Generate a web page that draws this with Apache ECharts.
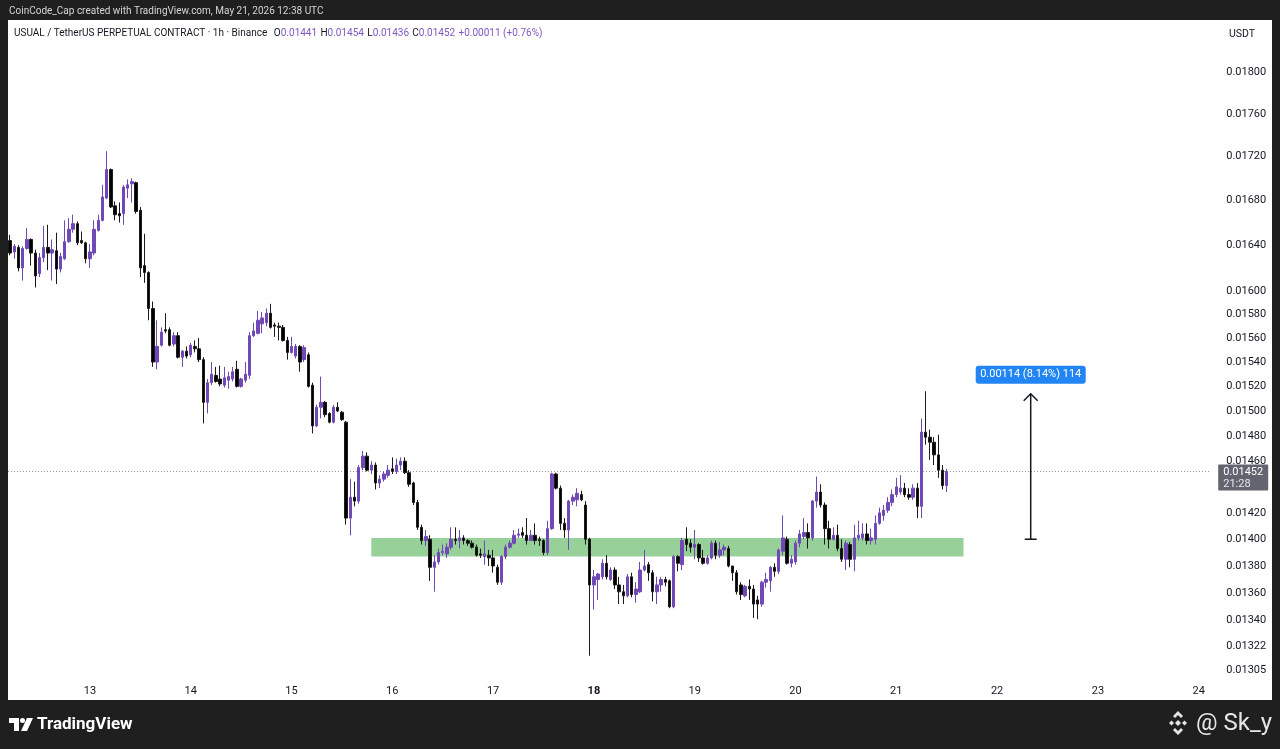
<!DOCTYPE html>
<html><head><meta charset="utf-8">
<script src="https://cdn.jsdelivr.net/npm/echarts@6/dist/echarts.min.js"></script>
<style>html,body{margin:0;padding:0;background:#1f1f1f;}#c{width:1280px;height:749px;}</style>
</head><body><div id="c"></div>
<script>
// ---- data (USUAL/USDT 1h, first candle 12 May 05:00 UTC) ----
const firstCandle = '2026-05-12T05:00:00Z';
const opens = [
0.01644,0.01634,0.01638,0.01620,0.01637,0.01645,0.01633,0.01615,0.01629,0.01638,
0.01633,0.01635,0.01619,0.01628,0.01643,0.01654,0.01659,0.01644,0.01642,0.01628,
0.01633,0.01653,0.01662,0.01682,0.01708,0.01675,0.01668,0.01668,0.01691,0.01695,
0.01696,0.01671,0.01622,0.01616,0.01585,0.01540,0.01554,0.01567,0.01567,0.01555,
0.01562,0.01544,0.01549,0.01546,0.01553,0.01551,0.01542,0.01507,0.01523,0.01529,
0.01526,0.01521,0.01525,0.01526,0.01534,0.01520,0.01525,0.01529,0.01562,0.01564,
0.01572,0.01573,0.01581,0.01571,0.01570,0.01569,0.01558,0.01548,0.01545,0.01553,
0.01542,0.01546,0.01521,0.01488,0.01503,0.01507,0.01498,0.01491,0.01503,0.01499,
0.01491,0.01416,0.01432,0.01429,0.01455,0.01464,0.01453,0.01457,0.01443,0.01446,
0.01449,0.01454,0.01452,0.01457,0.01460,0.01451,0.01443,0.01428,0.01409,0.01399,
0.01400,0.01379,0.01383,0.01390,0.01389,0.01394,0.01400,0.01399,0.01401,0.01399,
0.01397,0.01394,0.01389,0.01387,0.01388,0.01386,0.01379,0.01368,0.01387,0.01394,
0.01397,0.01403,0.01405,0.01403,0.01399,0.01403,0.01400,0.01399,0.01390,0.01408,
0.01450,0.01439,0.01412,0.01407,0.01429,0.01430,0.01434,0.01426,0.01400,0.01366,
0.01370,0.01372,0.01382,0.01370,0.01377,0.01366,0.01361,0.01358,0.01372,0.01359,
0.01361,0.01377,0.01381,0.01375,0.01361,0.01366,0.01370,0.01369,0.01350,0.01387,
0.01381,0.01400,0.01397,0.01394,0.01396,0.01386,0.01382,0.01386,0.01397,0.01388,
0.01392,0.01393,0.01380,0.01375,0.01366,0.01358,0.01365,0.01363,0.01355,0.01352,
0.01368,0.01369,0.01379,0.01376,0.01391,0.01400,0.01382,0.01383,0.01397,0.01402,
0.01405,0.01401,0.01429,0.01436,0.01426,0.01408,0.01400,0.01403,0.01393,0.01385,
0.01396,0.01385,0.01401,0.01401,0.01404,0.01399,0.01400,0.01412,0.01418,0.01422,
0.01428,0.01434,0.01436,0.01439,0.01434,0.01432,0.01439,0.01425,0.01483,0.01479,
0.01475,0.01465,0.01453,0.01441];
const closes = [
0.01633,0.01639,0.01620,0.01637,0.01645,0.01633,0.01613,0.01629,0.01638,0.01633,
0.01636,0.01619,0.01630,0.01643,0.01654,0.01659,0.01642,0.01642,0.01628,0.01634,
0.01654,0.01662,0.01683,0.01708,0.01674,0.01667,0.01666,0.01692,0.01694,0.01697,
0.01670,0.01620,0.01616,0.01585,0.01540,0.01553,0.01565,0.01566,0.01554,0.01562,
0.01544,0.01549,0.01545,0.01554,0.01551,0.01542,0.01507,0.01523,0.01530,0.01524,
0.01522,0.01527,0.01528,0.01532,0.01520,0.01526,0.01530,0.01562,0.01566,0.01575,
0.01577,0.01581,0.01569,0.01570,0.01569,0.01558,0.01548,0.01553,0.01553,0.01540,
0.01552,0.01520,0.01488,0.01503,0.01507,0.01497,0.01491,0.01503,0.01500,0.01493,
0.01416,0.01432,0.01429,0.01455,0.01464,0.01453,0.01457,0.01443,0.01446,0.01450,
0.01453,0.01452,0.01457,0.01460,0.01451,0.01442,0.01428,0.01409,0.01399,0.01402,
0.01379,0.01383,0.01390,0.01391,0.01394,0.01400,0.01399,0.01401,0.01399,0.01397,
0.01394,0.01388,0.01388,0.01389,0.01386,0.01380,0.01368,0.01387,0.01394,0.01397,
0.01403,0.01404,0.01403,0.01399,0.01403,0.01399,0.01399,0.01390,0.01408,0.01450,
0.01439,0.01412,0.01407,0.01429,0.01432,0.01435,0.01430,0.01400,0.01366,0.01372,
0.01374,0.01382,0.01372,0.01377,0.01366,0.01361,0.01358,0.01372,0.01359,0.01363,
0.01377,0.01380,0.01375,0.01361,0.01366,0.01370,0.01368,0.01350,0.01387,0.01382,
0.01399,0.01396,0.01394,0.01396,0.01386,0.01382,0.01386,0.01397,0.01388,0.01392,
0.01394,0.01380,0.01375,0.01361,0.01359,0.01365,0.01363,0.01352,0.01352,0.01368,
0.01370,0.01379,0.01376,0.01392,0.01401,0.01382,0.01385,0.01397,0.01404,0.01405,
0.01401,0.01429,0.01436,0.01426,0.01408,0.01400,0.01403,0.01393,0.01385,0.01397,
0.01385,0.01401,0.01403,0.01404,0.01399,0.01401,0.01412,0.01420,0.01422,0.01428,
0.01434,0.01440,0.01439,0.01434,0.01432,0.01439,0.01425,0.01483,0.01479,0.01475,
0.01465,0.01453,0.01441,0.01452];
const lows = [
0.01631,0.01628,0.01617,0.01609,0.01636,0.01622,0.01603,0.01612,0.01625,0.01618,
0.01609,0.01606,0.01616,0.01627,0.01642,0.01651,0.01640,0.01641,0.01624,0.01620,
0.01631,0.01652,0.01661,0.01681,0.01673,0.01662,0.01660,0.01658,0.01682,0.01678,
0.01668,0.01612,0.01607,0.01575,0.01536,0.01534,0.01553,0.01564,0.01553,0.01553,
0.01543,0.01536,0.01543,0.01544,0.01548,0.01540,0.01490,0.01498,0.01521,0.01523,
0.01520,0.01519,0.01518,0.01524,0.01519,0.01519,0.01523,0.01526,0.01561,0.01563,
0.01564,0.01570,0.01568,0.01561,0.01558,0.01557,0.01542,0.01547,0.01543,0.01532,
0.01540,0.01519,0.01482,0.01487,0.01494,0.01495,0.01490,0.01490,0.01499,0.01492,
0.01411,0.01403,0.01425,0.01427,0.01453,0.01452,0.01450,0.01438,0.01439,0.01444,
0.01447,0.01450,0.01450,0.01453,0.01450,0.01440,0.01426,0.01407,0.01396,0.01395,
0.01369,0.01361,0.01381,0.01388,0.01386,0.01392,0.01396,0.01393,0.01396,0.01395,
0.01393,0.01387,0.01386,0.01381,0.01380,0.01375,0.01366,0.01366,0.01385,0.01393,
0.01396,0.01401,0.01401,0.01396,0.01399,0.01396,0.01395,0.01388,0.01388,0.01407,
0.01438,0.01407,0.01401,0.01392,0.01426,0.01425,0.01429,0.01396,0.01315,0.01348,
0.01355,0.01370,0.01370,0.01369,0.01363,0.01352,0.01352,0.01357,0.01357,0.01353,
0.01360,0.01376,0.01369,0.01354,0.01352,0.01361,0.01365,0.01349,0.01349,0.01376,
0.01377,0.01391,0.01390,0.01385,0.01383,0.01381,0.01381,0.01385,0.01385,0.01386,
0.01388,0.01379,0.01369,0.01359,0.01355,0.01357,0.01355,0.01342,0.01341,0.01350,
0.01364,0.01361,0.01372,0.01374,0.01388,0.01381,0.01379,0.01381,0.01394,0.01400,
0.01393,0.01399,0.01424,0.01424,0.01396,0.01393,0.01399,0.01391,0.01383,0.01377,
0.01379,0.01376,0.01399,0.01399,0.01396,0.01396,0.01396,0.01411,0.01414,0.01420,
0.01425,0.01432,0.01434,0.01432,0.01430,0.01430,0.01416,0.01416,0.01473,0.01461,
0.01457,0.01447,0.01438,0.01436];
const highs = [
0.01649,0.01641,0.01640,0.01639,0.01655,0.01646,0.01636,0.01633,0.01657,0.01658,
0.01645,0.01651,0.01633,0.01662,0.01664,0.01667,0.01661,0.01652,0.01643,0.01641,
0.01662,0.01667,0.01694,0.01725,0.01709,0.01679,0.01678,0.01694,0.01699,0.01700,
0.01697,0.01674,0.01650,0.01617,0.01591,0.01575,0.01569,0.01581,0.01569,0.01565,
0.01565,0.01550,0.01553,0.01556,0.01558,0.01560,0.01544,0.01526,0.01540,0.01536,
0.01537,0.01536,0.01532,0.01536,0.01541,0.01527,0.01540,0.01565,0.01573,0.01583,
0.01582,0.01585,0.01589,0.01573,0.01573,0.01571,0.01561,0.01561,0.01555,0.01554,
0.01554,0.01548,0.01523,0.01505,0.01528,0.01508,0.01499,0.01505,0.01507,0.01500,
0.01492,0.01446,0.01444,0.01457,0.01468,0.01467,0.01460,0.01459,0.01449,0.01452,
0.01457,0.01463,0.01462,0.01463,0.01463,0.01453,0.01444,0.01430,0.01411,0.01407,
0.01403,0.01388,0.01393,0.01396,0.01397,0.01409,0.01409,0.01407,0.01403,0.01400,
0.01399,0.01396,0.01393,0.01399,0.01392,0.01392,0.01381,0.01388,0.01396,0.01399,
0.01407,0.01408,0.01409,0.01416,0.01407,0.01412,0.01402,0.01400,0.01414,0.01451,
0.01451,0.01441,0.01416,0.01430,0.01434,0.01439,0.01437,0.01429,0.01401,0.01377,
0.01375,0.01385,0.01388,0.01379,0.01379,0.01372,0.01366,0.01374,0.01375,0.01368,
0.01383,0.01392,0.01383,0.01377,0.01372,0.01372,0.01372,0.01370,0.01388,0.01388,
0.01401,0.01409,0.01400,0.01407,0.01397,0.01392,0.01388,0.01399,0.01399,0.01398,
0.01396,0.01395,0.01380,0.01377,0.01368,0.01366,0.01370,0.01366,0.01358,0.01369,
0.01375,0.01380,0.01382,0.01393,0.01418,0.01402,0.01388,0.01399,0.01407,0.01416,
0.01412,0.01430,0.01448,0.01442,0.01428,0.01414,0.01409,0.01411,0.01400,0.01399,
0.01398,0.01411,0.01414,0.01412,0.01412,0.01408,0.01418,0.01424,0.01426,0.01432,
0.01438,0.01447,0.01449,0.01443,0.01439,0.01442,0.01443,0.01494,0.01516,0.01485,
0.01479,0.01481,0.01457,0.01454];

const priceTicks = [0.01800,0.01760,0.01720,0.01680,0.01640,0.01600,0.01580,0.01560,0.01540,0.01520,
  0.01500,0.01480,0.01460,0.01440,0.01420,0.01400,0.01380,0.01360,0.01340,0.01322,0.01305];
const boldDays = ['18'];
const lastPrice = 0.01452;
const lastPriceLines = ['0.01452', '21:28'];
const zoneLow = 0.01387, zoneHigh = 0.01401;
const zoneFrom = '2026-05-15T19', zoneTo = '2026-05-21T16';
const measureAt = '2026-05-22T08';
const measureFrom = 0.01400, measureTo = 0.01514;
const measureText = '0.00114 (8.14%) 114';
const ohlcHeader = {o:'0.01441', h:'0.01454', l:'0.01436', c:'0.01452', chg:'+0.00011 (+0.76%)'};

// ---- axis setup ----
const slots = 286;               // hourly slots on the time scale (incl. empty future)
const t0 = Date.parse(firstCandle);
const cats = [];
for (let k = 0; k < slots; k++) cats.push(new Date(t0 + k * 3600e3).toISOString().slice(0, 13));
const lastCat = cats[opens.length - 1];
const candles = opens.map((o, k) => [Math.log(o), Math.log(closes[k]), Math.log(lows[k]), Math.log(highs[k])]);
const axisTop = 0.018511, axisBottom = 0.012979;

const FONT = 'Roboto, "Noto Sans", sans-serif';
const UP = '#7049b6', DOWN = '#000000';

const chart = echarts.init(document.getElementById('c'), null, {renderer: 'canvas'});
chart.setOption({
  animation: false,
  backgroundColor: '#ffffff',
  grid: {left: 8, top: 20, width: 1201.2, height: 660},
  xAxis: {
    type: 'category', data: cats, boundaryGap: true,
    axisLine: {show: false}, axisTick: {show: false}, splitLine: {show: false},
    axisLabel: {
      interval: (i, v) => v.endsWith('T00'),
      formatter: v => { const d = String(+v.slice(8, 10)); return boldDays.includes(d) ? '{b|' + d + '}' : d; },
      color: '#131722', fontSize: 11, fontFamily: FONT, margin: 6,
      rich: {b: {fontWeight: 'bold', color: '#131722', fontSize: 11, fontFamily: FONT}}
    }
  },
  yAxis: {
    type: 'value', position: 'right',
    min: Math.log(axisBottom), max: Math.log(axisTop),
    axisLine: {show: false}, axisTick: {show: false}, splitLine: {show: false},
    axisLabel: {
      customValues: priceTicks.map(Math.log),
      formatter: v => Math.exp(v).toFixed(5),
      color: '#131722', fontSize: 11, fontFamily: FONT, margin: 17, align: 'left'
    }
  },
  series: [
    {
      type: 'line', data: [], z: 1, silent: true,
      markArea: {
        silent: true,
        itemStyle: {color: 'rgba(76,175,80,0.58)'},
        data: [[{xAxis: zoneFrom, yAxis: Math.log(zoneHigh)}, {xAxis: zoneTo, yAxis: Math.log(zoneLow)}]]
      }
    },
    {
      // current price dotted line
      type: 'custom', z: 2, silent: true,
      data: [[lastCat, Math.log(lastPrice)]],
      encode: {x: 0, y: 1},
      renderItem: (params, api) => {
        const cs = params.coordSys;
        const p = api.coord([api.value(0), api.value(1)]);
        const y = Math.round(p[1]) + 0.5;
        return {type: 'line', shape: {x1: cs.x, y1: y, x2: cs.x + cs.width, y2: y}, style: {stroke: '#9598a1', lineWidth: 1, lineDash: [1, 2]}};
      }
    },
    {
      type: 'candlestick', data: candles, z: 3, barWidth: 3,
      itemStyle: {color: UP, color0: DOWN, borderColor: UP, borderColor0: '#1b1b1b', borderWidth: 1}
    },
    {
      // current price tag on the price scale (drawn above the axis labels)
      type: 'custom', zlevel: 1, z: 10, silent: true, clip: false,
      data: [[lastCat, Math.log(lastPrice)]],
      encode: {x: 0, y: 1},
      renderItem: (params, api) => {
        const cs = params.coordSys;
        const p = api.coord([api.value(0), api.value(1)]);
        const bx = cs.x + cs.width + 9;
        return {type: 'group', children: [
          {type: 'rect', shape: {x: bx, y: p[1] - 7, width: 50, height: 26, r: 1}, style: {fill: '#62656f'}},
          {type: 'text', style: {text: lastPriceLines[0], x: bx + 5, y: p[1] + 0.5, verticalAlign: 'middle', fill: '#ffffff', font: '11px ' + FONT}},
          {type: 'text', style: {text: lastPriceLines[1], x: bx + 5, y: p[1] + 12.5, verticalAlign: 'middle', fill: '#e8e8ea', font: '11px ' + FONT}}
        ]};
      }
    },
    {
      type: 'custom', z: 5, silent: true,
      data: [[measureAt, Math.log(measureFrom), Math.log(measureTo)]],
      encode: {x: 0, y: [1, 2]},
      renderItem: (params, api) => {
        const p0 = api.coord([api.value(0), api.value(1)]);
        const p1 = api.coord([api.value(0), api.value(2)]);
        const s = {stroke: '#131722', lineWidth: 1.5};
        return {type: 'group', children: [
          {type: 'line', shape: {x1: p0[0], y1: p0[1], x2: p1[0], y2: p1[1]}, style: s},
          {type: 'line', shape: {x1: p0[0] - 6, y1: p0[1], x2: p0[0] + 6, y2: p0[1]}, style: s},
          {type: 'polyline', shape: {points: [[p1[0] - 7, p1[1] + 7], [p1[0], p1[1]], [p1[0] + 7, p1[1] + 7]]}, style: {stroke: '#131722', lineWidth: 1.5, fill: null}},
          {type: 'rect', shape: {x: p1[0] - 55, y: p1[1] - 28, width: 110, height: 18, r: 3}, style: {fill: '#2185f5'}},
          {type: 'text', style: {text: measureText, x: p1[0], y: p1[1] - 19, align: 'center', verticalAlign: 'middle', fill: '#ffffff', font: '11px ' + FONT}}
        ]};
      }
    }
  ],
  graphic: [
    {type: 'rect', z: 100, shape: {x: 0, y: 0, width: 1280, height: 20}, style: {fill: '#1f1f1f'}},
    {type: 'rect', z: 100, shape: {x: 0, y: 0, width: 8, height: 749}, style: {fill: '#1f1f1f'}},
    {type: 'rect', z: 100, shape: {x: 1272, y: 0, width: 8, height: 749}, style: {fill: '#1f1f1f'}},
    {type: 'rect', z: 100, shape: {x: 0, y: 700, width: 1280, height: 49}, style: {fill: '#1f1f1f'}},
    {type: 'text', z: 101, style: {text: 'CoinCode_Cap created with TradingView.com, May 21, 2026 12:38 UTC', x: 9, y: 11, verticalAlign: 'middle', fill: '#d6d6d6', font: '10px ' + FONT}},
    {type: 'text', z: 101, style: {
      x: 14, y: 33, verticalAlign: 'middle',
      text: '{t|USUAL / TetherUS PERPETUAL CONTRACT · 1h · Binance}  {t|O}{v|' + ohlcHeader.o + '} {t|H}{v|' + ohlcHeader.h + '} {t|L}{v|' + ohlcHeader.l + '} {t|C}{v|' + ohlcHeader.c + '} {v|' + ohlcHeader.chg + '}',
      rich: {t: {fill: '#131722', font: '10px ' + FONT}, v: {fill: '#7e57c2', font: '10px ' + FONT}}
    }},
    {type: 'text', z: 101, style: {text: 'USDT', x: 1242, y: 34, align: 'center', verticalAlign: 'middle', fill: '#131722', font: '10.5px ' + FONT}},
    // TradingView logo mark
    {type: 'rect', z: 101, shape: {x: 9, y: 718, width: 10, height: 5}, style: {fill: '#ffffff'}},
    {type: 'rect', z: 101, shape: {x: 14, y: 718, width: 5, height: 13}, style: {fill: '#ffffff'}},
    {type: 'circle', z: 101, shape: {cx: 22.5, cy: 720.5, r: 2.5}, style: {fill: '#ffffff'}},
    {type: 'polygon', z: 101, shape: {points: [[27, 718], [33, 718], [27, 731], [21, 731]]}, style: {fill: '#ffffff'}},
    {type: 'text', z: 101, style: {text: 'TradingView', x: 37, y: 725, verticalAlign: 'middle', fill: '#ffffff', font: 'bold 17px ' + FONT}},
    // Binance mark
    {type: 'polygon', z: 101, shape: {points: [[1178, 711], [1183, 716], [1181, 718], [1178, 715], [1175, 718], [1173, 716]]}, style: {fill: '#e6e6e6'}},
    {type: 'polygon', z: 101, shape: {points: [[1178, 735], [1183, 730], [1181, 728], [1178, 731], [1175, 728], [1173, 730]]}, style: {fill: '#e6e6e6'}},
    {type: 'polygon', z: 101, shape: {points: [[1178, 720], [1181, 723], [1178, 726], [1175, 723]]}, style: {fill: '#e6e6e6'}},
    {type: 'polygon', z: 101, shape: {points: [[1169, 723], [1171.5, 720.5], [1174, 723], [1171.5, 725.5]]}, style: {fill: '#e6e6e6'}},
    {type: 'polygon', z: 101, shape: {points: [[1182, 723], [1184.5, 720.5], [1187, 723], [1184.5, 725.5]]}, style: {fill: '#e6e6e6'}},
    {type: 'text', z: 101, style: {text: '@ Sk_y', x: 1196, y: 724, verticalAlign: 'middle', fill: '#e6e6e6', font: '24px ' + FONT}}
  ]
});
</script></body></html>
